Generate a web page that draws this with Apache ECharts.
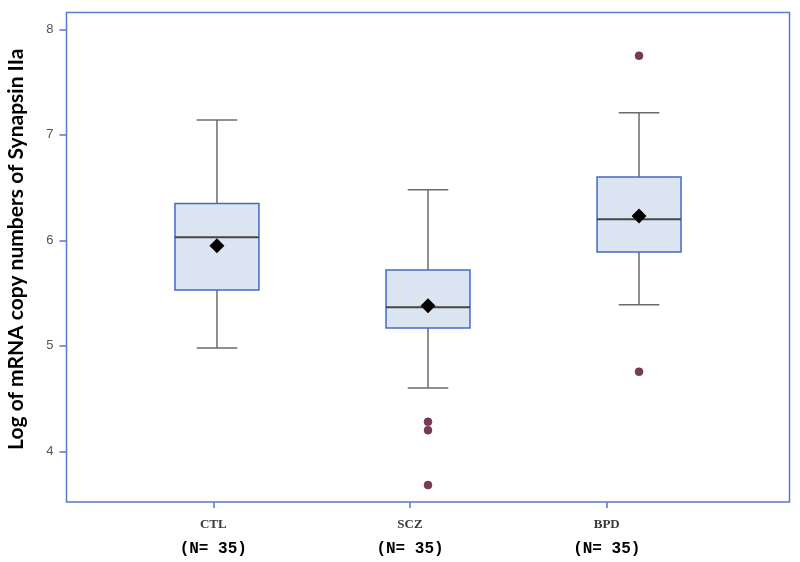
<!DOCTYPE html>
<html>
<head>
<meta charset="utf-8">
<script src="https://cdn.jsdelivr.net/npm/echarts@6/dist/echarts.min.js"></script>
<style>html,body{margin:0;padding:0;background:#fff;}#chart{width:800px;height:562px;}</style>
</head>
<body>
<div id="chart"></div>
<script>
const categories = ['CTL', 'SCZ', 'BPD'];
const nLabels = ['(N= 35)', '(N= 35)', '(N= 35)'];
const whiskerLow = [4.98, 4.60, 5.39];
const q1 = [5.53, 5.17, 5.89];
const median = [6.03, 5.365, 6.20];
const q3 = [6.35, 5.72, 6.60];
const whiskerHigh = [7.14, 6.48, 7.21];
const means = [5.95, 5.38, 6.23];
const outlierGroup = [2, 2, 2, 3, 3];
const outlierValues = [4.28, 4.20, 3.68, 7.75, 4.755];
const yTicks = [4, 5, 6, 7, 8];
const yTitle = 'Log of mRNA copy numbers of Synapsin IIa';

const boxData = categories.map((c, i) => [i + 1, whiskerLow[i], q1[i], median[i], q3[i], whiskerHigh[i]]);
const meanData = categories.map((c, i) => [i + 1, means[i]]);
const outlierData = outlierGroup.map((g, i) => [g, outlierValues[i]]);

const chart = echarts.init(document.getElementById('chart'));

function renderBox(params, api) {
  const x = api.value(0);
  const lo = api.coord([x, api.value(1)]);
  const b1 = api.coord([x, api.value(2)]);
  const md = api.coord([x, api.value(3)]);
  const b3 = api.coord([x, api.value(4)]);
  const hi = api.coord([x, api.value(5)]);
  const halfBox = api.size([0.199, 0])[0];
  const halfCap = api.size([0.096, 0])[0];
  const cx = lo[0];
  const wStyle = { stroke: '#6b6b6b', lineWidth: 1.5 };
  return {
    type: 'group',
    children: [
      { type: 'line', shape: { x1: cx, y1: lo[1], x2: cx, y2: b1[1] }, style: wStyle },
      { type: 'line', shape: { x1: cx, y1: b3[1], x2: cx, y2: hi[1] }, style: wStyle },
      { type: 'line', shape: { x1: cx - halfCap, y1: lo[1], x2: cx + halfCap, y2: lo[1] }, style: wStyle },
      { type: 'line', shape: { x1: cx - halfCap, y1: hi[1], x2: cx + halfCap, y2: hi[1] }, style: wStyle },
      { type: 'rect', shape: { x: cx - halfBox, y: b3[1], width: 2 * halfBox, height: b1[1] - b3[1] },
        style: { fill: '#dbe5f2', stroke: '#4468c4', lineWidth: 1.5 } },
      { type: 'line', shape: { x1: cx - halfBox, y1: md[1], x2: cx + halfBox, y2: md[1] },
        style: { stroke: '#454545', lineWidth: 2 } }
    ]
  };
}

const option = {
  backgroundColor: '#ffffff',
  animation: false,
  grid: { left: 66.5, top: 12.5, right: 10.5, bottom: 60, outerBoundsMode: 'none', containLabel: false,
    show: true, borderColor: '#5a78cc', borderWidth: 1.5, backgroundColor: 'transparent' },
  xAxis: [
    {
      type: 'value', min: 0.287, max: 3.713,
      axisLine: { show: false }, axisTick: { show: false }, axisLabel: { show: false }, splitLine: { show: false }
    },
    {
      type: 'value', min: 0.254, max: 3.929, position: 'bottom',
      axisLine: { show: false },
      axisTick: { show: true, customValues: [1, 2, 3], length: 6, lineStyle: { color: '#5a78cc', width: 1.5 } },
      axisLabel: {
        customValues: [1, 2, 3], margin: 11,
        formatter: function (v) { const i = Math.round(v) - 1; return '{a|' + categories[i] + '}\n{b|' + nLabels[i] + '}'; },
        rich: {
          a: { fontFamily: 'Liberation Serif', fontWeight: 'bold', fontSize: 13, color: '#3a3a3a', lineHeight: 24 },
          b: { fontFamily: 'Liberation Mono', fontWeight: 'bold', fontSize: 16, color: '#000', lineHeight: 24 }
        }
      },
      splitLine: { show: false }
    }
  ],
  yAxis: {
    type: 'value', min: 3.52, max: 8.16,
    name: yTitle, nameLocation: 'middle', nameGap: 40,
    nameTextStyle: { fontFamily: 'Lato', fontWeight: 'bold', fontSize: 21, color: '#000', padding: [0, 0, 0, 16] },
    axisLine: { show: false },
    axisTick: { show: true, customValues: yTicks, length: 7, lineStyle: { color: '#5a78cc', width: 1.5 } },
    axisLabel: { customValues: yTicks, margin: 13, fontFamily: 'Liberation Sans', fontSize: 13, color: '#555' },
    splitLine: { show: false }
  },
  series: [
    {
      type: 'custom', xAxisIndex: 0, renderItem: renderBox, data: boxData,
      encode: { x: 0, y: [1, 2, 3, 4, 5] }, z: 2
    },
    {
      type: 'scatter', xAxisIndex: 0, data: meanData, symbol: 'diamond', symbolSize: 15,
      itemStyle: { color: '#000', opacity: 1 }, z: 4
    },
    {
      type: 'scatter', xAxisIndex: 0, data: outlierData, symbol: 'circle', symbolSize: 8,
      itemStyle: { color: '#7a3a55', borderColor: '#5e2c44', borderWidth: 0.5, opacity: 1 }, z: 4
    }
  ]
};
chart.setOption(option);
</script>
</body>
</html>
